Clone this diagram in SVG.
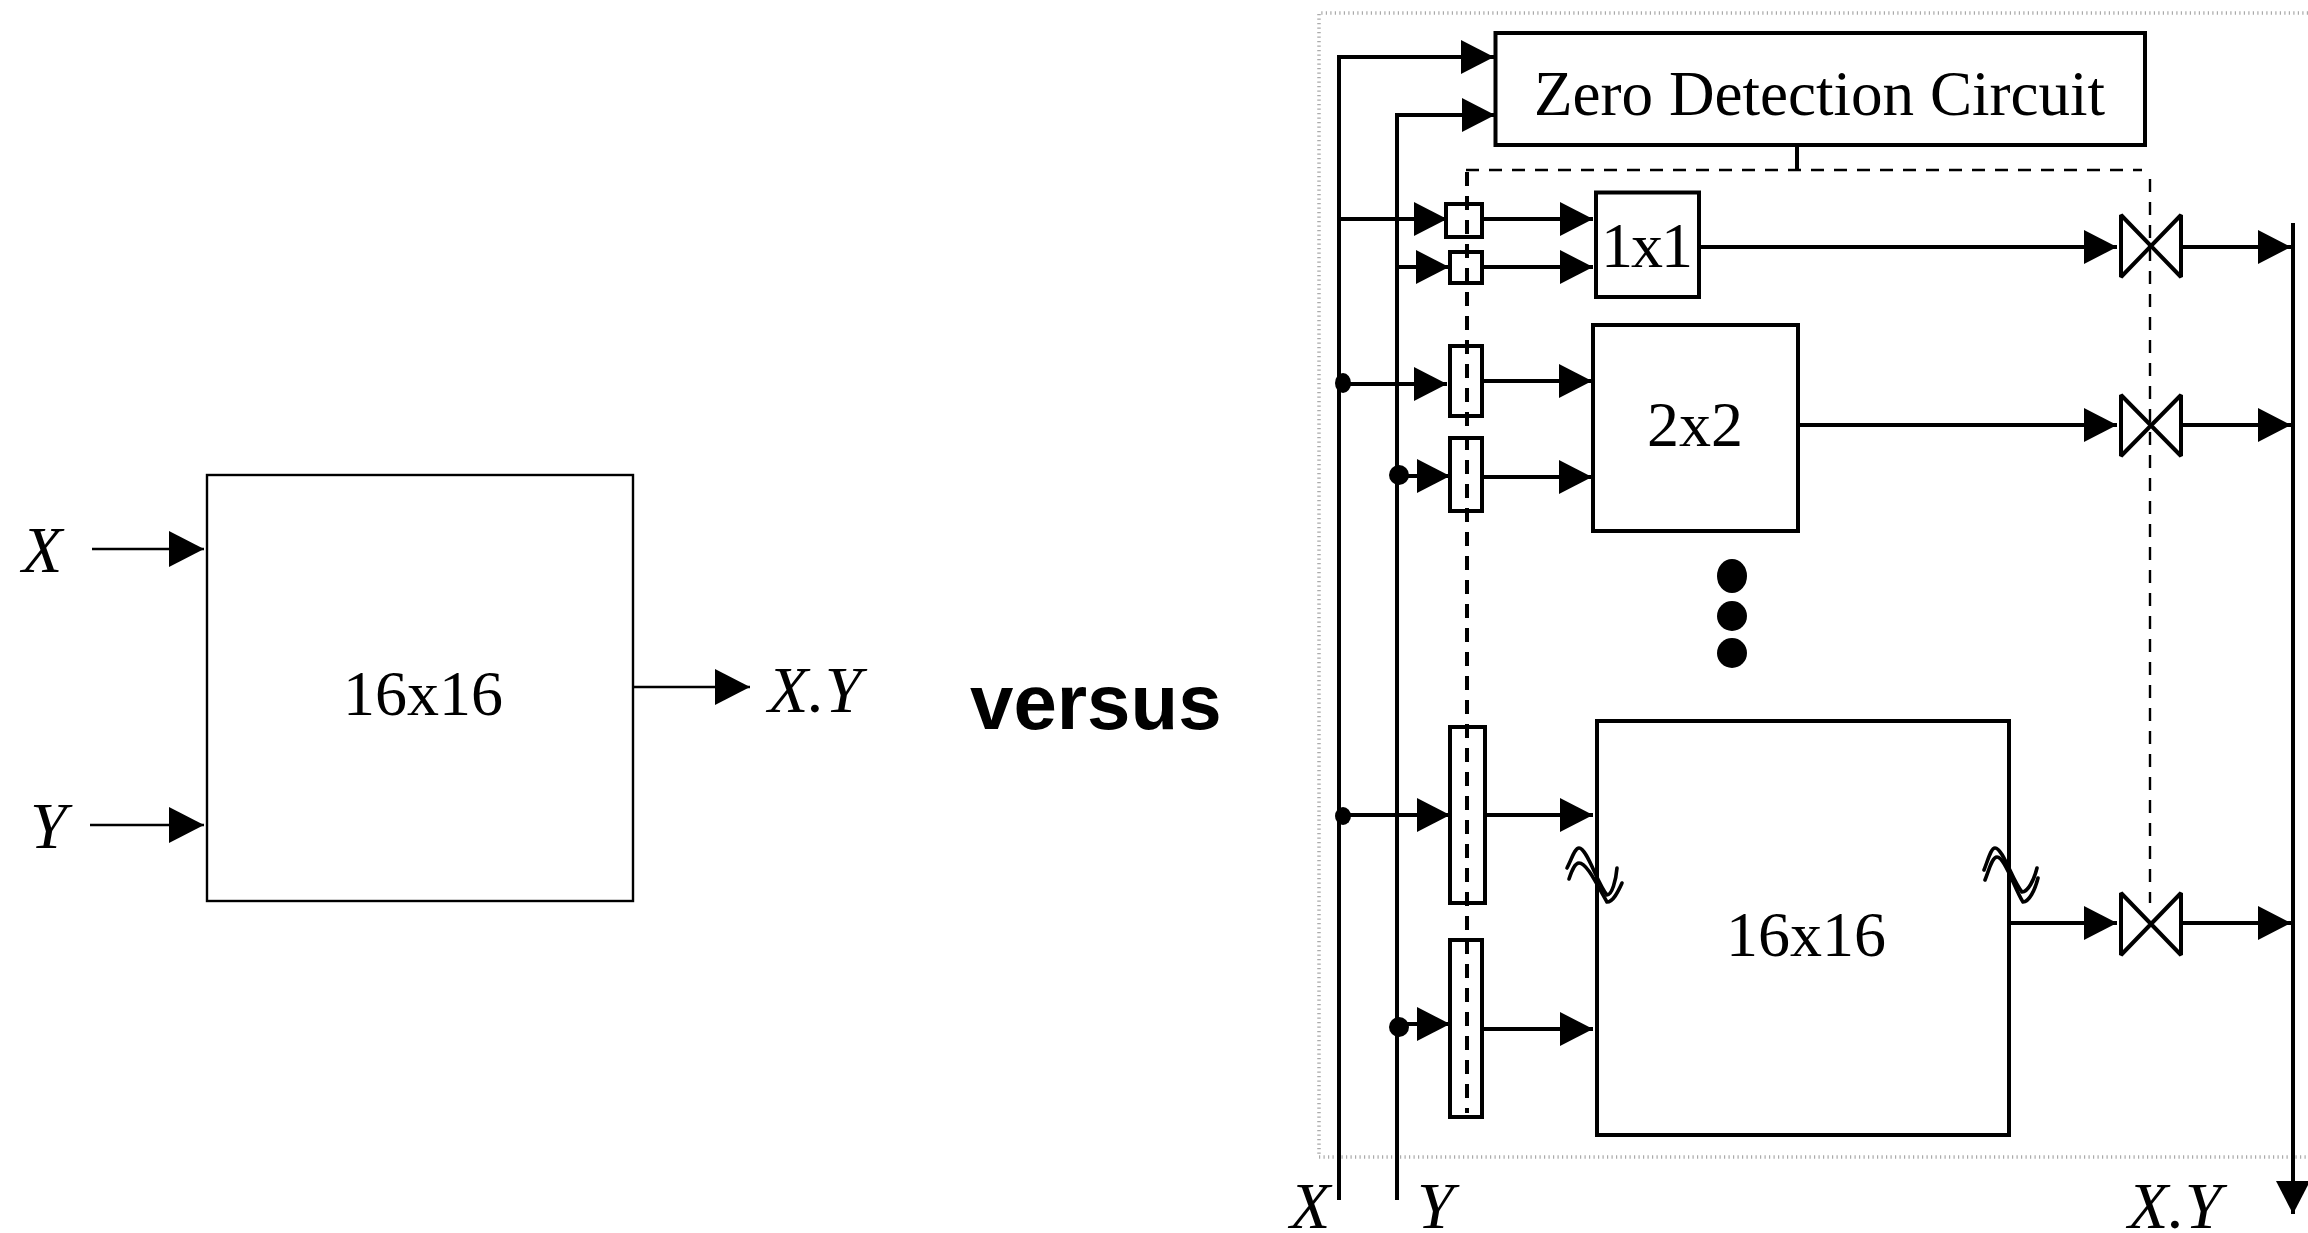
<svg xmlns="http://www.w3.org/2000/svg" width="2308" height="1233" viewBox="0 0 2308 1233">
<style>
.box{fill:#fff;stroke:#000;stroke-width:4}
.thin{fill:#fff;stroke:#000;stroke-width:2.4}
.w{fill:none;stroke:#000;stroke-width:4;stroke-linejoin:bevel}
.a{fill:none;stroke:#000;stroke-width:4;marker-end:url(#ah)}
.b{fill:none;stroke:#000;stroke-width:2.4;marker-end:url(#al)}
.d1{fill:none;stroke:#000;stroke-width:4;stroke-dasharray:14 10}
.d2{fill:none;stroke:#000;stroke-width:2.4;stroke-dasharray:13 10}
.frame{fill:none;stroke:#aaa;stroke-width:3.5;stroke-dasharray:1.2 3.3}
.sq{fill:none;stroke:#000;stroke-width:3.6;stroke-linecap:round}
.t{font-family:"Liberation Serif","Times New Roman",serif;font-size:64px;fill:#000}
.i{font-style:italic;font-size:66px}
.v{font-family:"Liberation Sans",Arial,sans-serif;font-weight:bold;font-size:78px;fill:#000}
</style>
<defs>
<marker id="ah" markerUnits="userSpaceOnUse" markerWidth="34" markerHeight="36" refX="33" refY="17" orient="auto"><path d="M0 0L33 17L0 34Z" fill="#000"/></marker>
<marker id="al" markerUnits="userSpaceOnUse" markerWidth="37" markerHeight="38" refX="35" refY="18" orient="auto"><path d="M0 0L35 18L0 36Z" fill="#000"/></marker>
</defs>
<path id="frame" class="frame" d="M2308 13H1319V1157H2308"/>
<g id="simple-block"><rect class="thin" x="207" y="475" width="426" height="426"/><text class="t" x="343" y="715">16x16</text></g>
<g id="simple-x"><text class="t i" x="22" y="572">X</text></g>
<g id="simple-y"><text class="t i" x="30" y="848">Y</text></g>
<g id="simple-xy"><text class="t i" x="768" y="712">X.Y</text></g>
<g id="versus"><text class="v" x="970" y="729">versus</text></g>
<g id="zero"><rect class="box" x="1495.5" y="33" width="649.500" height="112"/><text class="t" x="1534" y="115" style="font-size:63.1px">Zero Detection Circuit</text></g>
<g id="m1x1"><rect class="box" x="1596" y="192.500" width="103" height="104.500"/><text class="t" x="1601" y="267" style="letter-spacing:-2px">1x1</text></g>
<g id="m2x2"><rect class="box" x="1593" y="325" width="205" height="206"/><text class="t" x="1647" y="446">2x2</text></g>
<g id="m16x16"><rect class="box" x="1597" y="721" width="412" height="414"/><text class="t" x="1726" y="956">16x16</text></g>
<g id="reg1"><rect class="box" x="1446" y="204" width="36" height="33"/></g>
<g id="reg2"><rect class="box" x="1450" y="252" width="32" height="31"/></g>
<g id="reg3"><rect class="box" x="1450" y="346" width="32" height="70"/></g>
<g id="reg4"><rect class="box" x="1450" y="438" width="32" height="73"/></g>
<g id="reg5"><rect class="box" x="1450" y="727" width="35" height="176"/></g>
<g id="reg6"><rect class="box" x="1450" y="940" width="32" height="177"/></g>
<g id="gate1"><path class="w" d="M2121 215V277L2181 215V277Z"/></g>
<g id="gate2"><path class="w" d="M2121 395V456L2181 395V456Z"/></g>
<g id="gate3"><path class="w" d="M2121 893V955L2181 893V955Z"/></g>
<g id="ellipsis"><ellipse cx="1732" cy="576" rx="15" ry="17"/><circle cx="1732" cy="616" r="15"/><circle cx="1732" cy="653" r="15"/></g>
<g id="break-left"><path class="sq" d="M1567 868C1572 858 1575 848 1579 848C1587 848 1597 883 1607 895C1612 895 1616 880 1617 868"/><path class="sq" d="M1569 879C1572 870 1575 863 1579 863C1587 863 1597 885 1607 902C1613 902 1618 892 1622 883"/></g>
<g id="break-right"><path class="sq" d="M1984 870C1988 860 1991 848 1995 848C2003 848 2012 880 2022 892C2028 892 2034 880 2037 868"/><path class="sq" d="M1985 880C1989 870 1992 857 1997 857C2005 857 2015 890 2023 902C2029 902 2035 890 2038 878"/></g>
<g id="connectors">
<path class="b" d="M92 549H204"/><path class="b" d="M90 825H204"/><path class="b" d="M633 687H750"/>
<path class="a" d="M1339 1200V57H1494"/>
<path class="a" d="M1397 1200V115H1495"/>
<path class="a" d="M1339 219H1447"/><path class="a" d="M1483 219H1593"/>
<path class="a" d="M1399 267H1449"/><path class="a" d="M1483 267H1593"/>
<path class="a" d="M1343 384H1447"/><path class="a" d="M1483 381H1592"/>
<path class="a" d="M1399 476H1450"/><path class="a" d="M1483 477H1592"/>
<path class="a" d="M1343 815H1450"/><path class="a" d="M1487 815H1593"/>
<path class="a" d="M1399 1024H1450"/><path class="a" d="M1483 1029H1593"/>
<path class="a" d="M1697 247H2117"/><path class="a" d="M2183 247H2291"/>
<path class="a" d="M1798 425H2117"/><path class="a" d="M2183 425H2291"/>
<path class="a" d="M2010 923H2117"/><path class="a" d="M2183 923H2291"/>
<path class="a" d="M2293 223V1214"/>
<path class="w" d="M1797 145V170"/>
<path class="d2" d="M1466 170H2142"/>
<path class="d2" d="M2150 179V903"/>
<path class="d1" d="M1467 172V1113"/>
<ellipse cx="1343" cy="383" rx="8" ry="10"/><circle cx="1399" cy="475" r="10"/>
<ellipse cx="1343" cy="816" rx="8" ry="9"/><circle cx="1399" cy="1027" r="10"/>
</g>
<g id="bus-labels"><text class="t i" x="1290" y="1228">X</text><text class="t i" x="1417" y="1228">Y</text><text class="t i" x="2128" y="1228">X.Y</text></g>
</svg>
